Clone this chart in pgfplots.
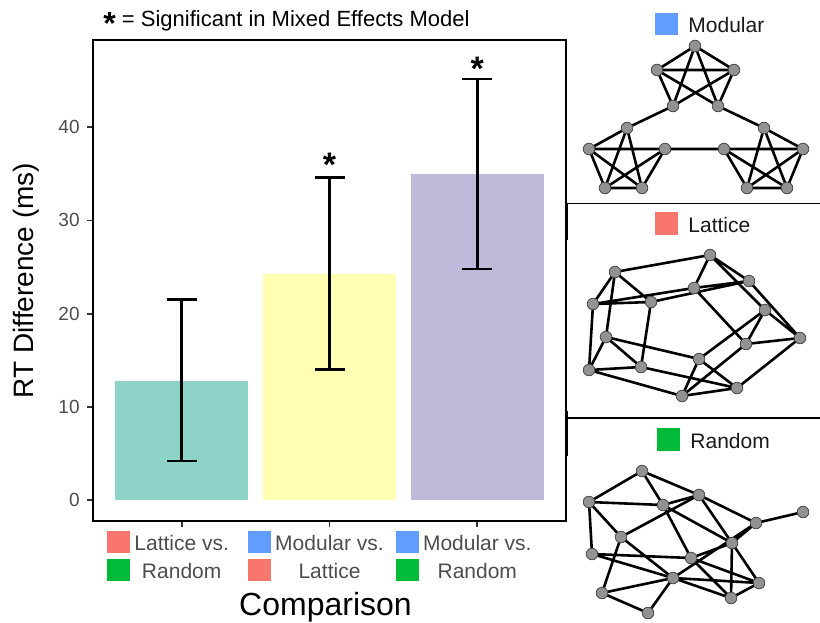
\documentclass[border=0pt]{standalone}
\usepackage{pgfplots}
\pgfplotsset{compat=1.18}
\usepackage{fontspec}
\setmainfont{Liberation Sans}

\definecolor{barA}{HTML}{8DD3C7}
\definecolor{barB}{HTML}{FFFFB3}
\definecolor{barC}{HTML}{BEBADA}
\definecolor{cred}{HTML}{F8766D}
\definecolor{cgreen}{HTML}{00BA38}
\definecolor{cblue}{HTML}{619CFF}
\definecolor{txtgray}{HTML}{4D4D4D}
\definecolor{nodegray}{HTML}{929292}
\definecolor{nodeline}{HTML}{474747}

% coloured key square + two-line tick label
\newcommand{\sq}[1]{\textcolor{#1}{\raisebox{-1.5pt}{\rule{11.5pt}{11pt}}}}
\newcommand{\tlab}[4]{\begin{tabular}{@{}l@{\hspace{2pt}}c@{\hspace{2pt}}l@{}}%
  \sq{#1}&#2&\phantom{\sq{#1}}\\ \sq{#3}&#4&\end{tabular}}

\begin{document}
\begin{tikzpicture}
\useasboundingbox (0,0) rectangle (410pt,311pt);

% ---- network panels, in picture pixel coordinates ----
\begin{axis}[at={(0pt,0pt)}, anchor=south west, scale only axis,
    width=410pt, height=311pt,
    xmin=0, xmax=820, ymin=0, ymax=622, y dir=reverse,
    hide axis, clip=false,
    unbounded coords=jump, empty line=jump,
    edge/.style={black, line width=1.3pt, mark=none},
    vert/.style={only marks, mark=*, mark size=2.9pt,
        mark options={fill=nodegray, draw=nodeline, line width=0.4pt}},
    ]
% separators
\addplot[black, line width=0.6pt, mark=none] table {
x y
566 203.5
820 203.5

566 418
820 418
};
\addplot[black, line width=0.8pt, mark=none] table {
x y
567 203
567 240

567 411
567 456
};
% modular
\addplot[edge] table {
x y
695 46
657 70

695 46
734 70

695 46
673 106

695 46
718 106

657 70
734 70

657 70
673 106

657 70
718 106

734 70
673 106

734 70
718 106

627 128
589 149

627 128
605 188

627 128
642 188

589 149
665 149

589 149
605 188

589 149
642 188

665 149
605 188

665 149
642 188

605 188
642 188

764 128
803 149

764 128
747 188

764 128
787 188

724 149
803 149

724 149
747 188

724 149
787 188

803 149
747 188

803 149
787 188

747 188
787 188

673 106
627 128

718 106
764 128

665 149
724 149
};
% lattice
\addplot[edge] table {
x y
710 255
615 272

710 255
749 281

710 255
694 288

710 255
765 310

615 272
593 304

615 272
651 302

615 272
606 337

749 281
694 288

749 281
651 302

749 281
800 338

694 288
593 304

694 288
746 344

593 304
651 302

593 304
589 370

651 302
641 367

765 310
800 338

765 310
746 344

765 310
699 359

800 338
746 344

800 338
737 388

606 337
699 359

606 337
589 370

606 337
641 367

746 344
682 396

699 359
737 388

699 359
682 396

589 370
641 367

589 370
682 396

641 367
737 388

737 388
682 396
};
% random
\addplot[edge] table {
x y
642 471
589 502

642 471
663 505

642 471
699 495

589 502
663 505

589 502
621 537

589 502
592 554

663 505
699 495

663 505
691 558

663 505
732 543

699 495
621 537

699 495
756 523

699 495
732 543

803 512
756 523

756 523
732 543

756 523
673 578

621 537
673 578

621 537
602 593

592 554
691 558

592 554
673 578

691 558
732 543

691 558
759 583

691 558
731 598

732 543
731 598

732 543
759 583

673 578
759 583

673 578
731 598

673 578
648 613

602 593
673 578

602 593
648 613

731 598
759 583
};
% vertices
\addplot[vert] table {
x y
695 46
657 70
734 70
673 106
718 106
627 128
589 149
665 149
605 188
642 188
764 128
724 149
803 149
747 188
787 188
};
\addplot[vert] table {
x y
710 255
615 272
749 281
694 288
593 304
651 302
765 310
800 338
606 337
746 344
699 359
589 370
641 367
737 388
682 396
};
\addplot[vert] table {
x y
642 471
589 502
663 505
699 495
803 512
756 523
621 537
732 543
592 554
691 558
673 578
759 583
602 593
731 598
648 613
};
\begin{scope}[every node/.style={anchor=base west, inner sep=0pt,
    font=\fontsize{10.5}{12}\selectfont, text=black!90}]
\node at (axis cs:655,32.7) {\textcolor{cblue}{\raisebox{-1.3pt}{\rule{11.5pt}{11.3pt}}}\hspace{5pt}Modular};
\node at (axis cs:655,232.3) {\textcolor{cred}{\raisebox{-1.3pt}{\rule{11.5pt}{11.3pt}}}\hspace{5pt}Lattice};
\node at (axis cs:657,448) {\textcolor{cgreen}{\raisebox{-1.3pt}{\rule{11.5pt}{11.3pt}}}\hspace{5pt}Random};
\end{scope}
\end{axis}

% ---- bar chart ----
\begin{axis}[at={(46.5pt,50.5pt)}, anchor=south west, scale only axis,
    width=236.5pt, height=240.5pt,
    xmin=-0.6, xmax=2.6, ymin=-2.25, ymax=49.36,
    axis line style={black, line width=0.9pt},
    tick align=outside, xtick pos=left, ytick pos=left,
    major tick length=3pt,
    tick style={black!80, line width=0.9pt},
    ytick={0,10,20,30,40},
    /pgf/number format/assume math mode=true,
    yticklabel style={font=\fontsize{9.5}{11}\selectfont, text=txtgray,
        anchor=east, inner sep=0pt, xshift=-3.5pt},
    xtick={0,1,2},
    xticklabels={{\tlab{cred}{Lattice vs.}{cgreen}{Random}},
                 {\tlab{cblue}{Modular vs.}{cred}{Lattice}},
                 {\tlab{cblue}{Modular vs.}{cgreen}{Random}}},
    xticklabel style={font=\fontsize{10.5}{14}\selectfont, text=txtgray,
        anchor=north, inner sep=0pt, yshift=-1.7pt},
    xlabel={Comparison},
    xlabel style={at={(axis description cs:0.5,0)}, anchor=base,
        yshift=-47pt, xshift=-2pt, inner sep=0pt,
        font=\fontsize{16}{19}\selectfont},
    ylabel={RT Difference (ms)},
    ylabel style={at={(axis description cs:-0.1268,0.5)}, anchor=base,
        inner sep=0pt, font=\fontsize{14}{17}\selectfont},
    title={\raisebox{-4.2pt}{\fontsize{16}{16}\selectfont\bfseries *} = Significant in Mixed Effects Model},
    title style={at={(axis description cs:0,1)}, anchor=base west,
        xshift=5pt, yshift=0.8pt, inner sep=0pt,
        font=\fontsize{11}{12}\selectfont},
    clip=false,
    ]
\addplot[ybar, bar width=0.9, bar shift=0pt, fill=barA, draw=none] coordinates {(0,12.8)};
\addplot[ybar, bar width=0.9, bar shift=0pt, fill=barB, draw=none] coordinates {(1,24.3)};
\addplot[ybar, bar width=0.9, bar shift=0pt, fill=barC, draw=none] coordinates {(2,35.0)};
\addplot[draw=none, mark=none,
    error bars/.cd, y dir=both, y explicit,
    error bar style={draw=black, solid, line width=1.25pt},
    error mark=-,
    error mark options={draw=black, solid, rotate=90, line width=1.25pt, mark size=7.5pt}]
    coordinates {
    (0,12.8) += (0,8.7) -= (0,8.6)
    (1,24.3) += (0,10.3) -= (0,10.3)
    (2,35.0) += (0,10.2) -= (0,10.2)
    };
\node[anchor=base, inner sep=0pt, font=\fontsize{17}{17}\selectfont\bfseries] at (axis cs:1,34.7) {*};
\node[anchor=base, inner sep=0pt, font=\fontsize{17}{17}\selectfont\bfseries] at (axis cs:2,45.0) {*};
\end{axis}
\end{tikzpicture}
\end{document}
